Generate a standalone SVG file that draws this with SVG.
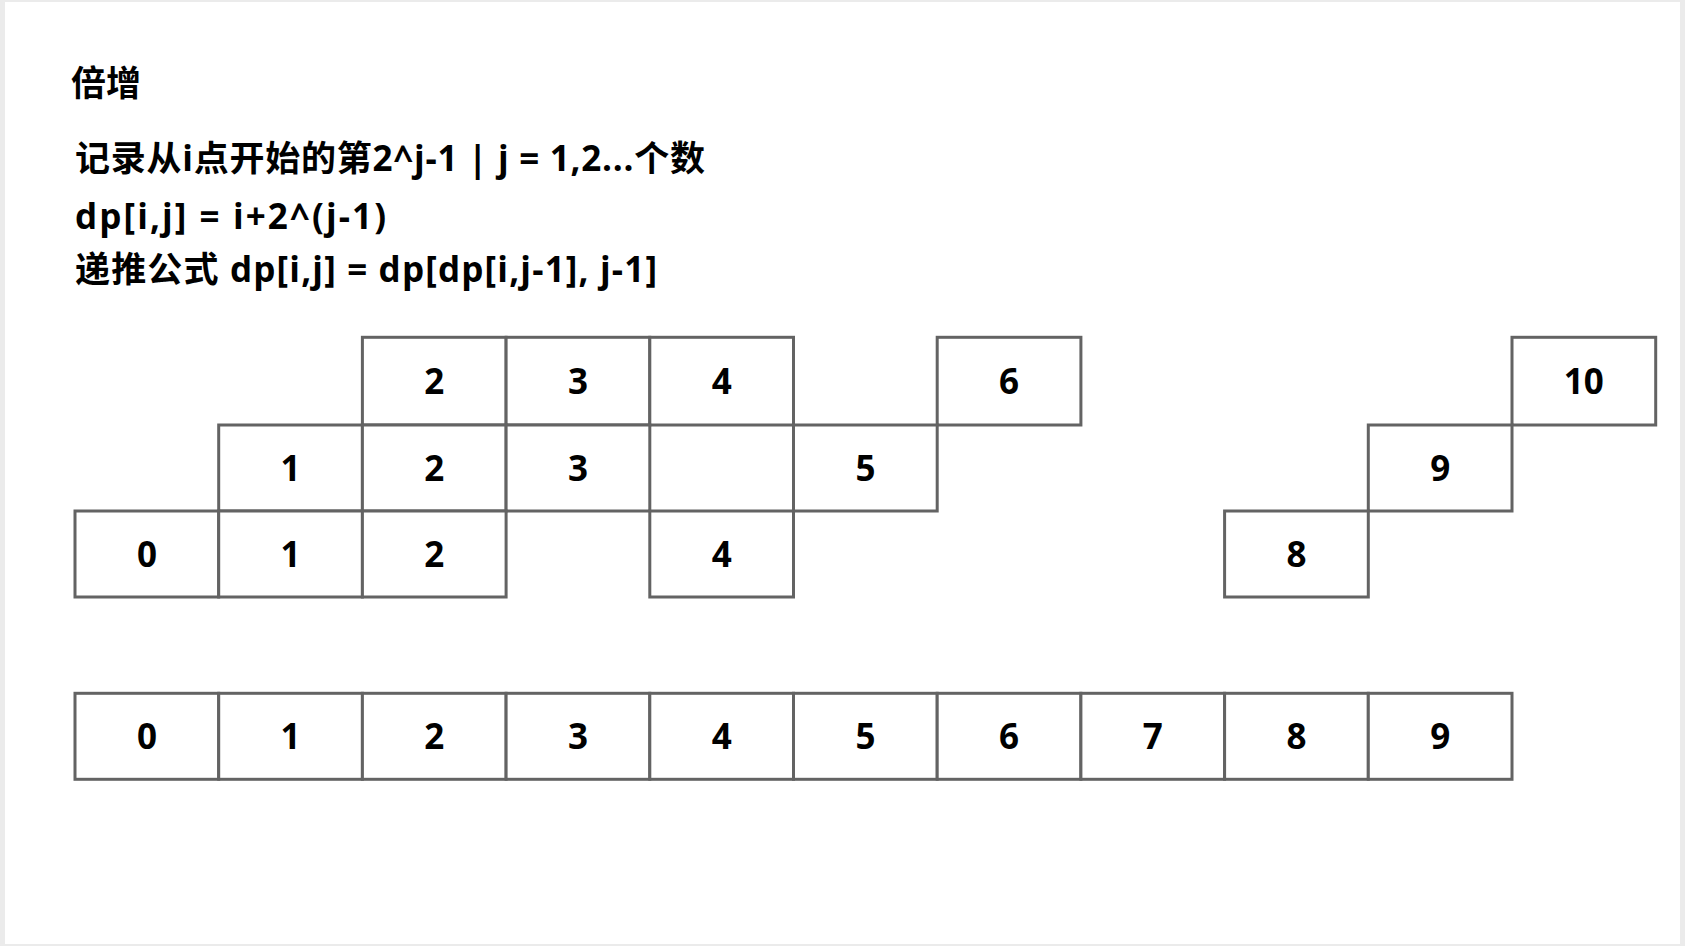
<svg xmlns="http://www.w3.org/2000/svg" width="1685" height="946" viewBox="0 0 1685 946">
<style>
.cell rect{fill:#ffffff;stroke:#636363;stroke-width:3}
.cell text{font-family:"Open Sans","Noto Sans CJK SC",sans-serif;font-weight:bold;font-size:35px;fill:#000;text-anchor:middle}
.txt{font-family:"Open Sans","Noto Sans CJK SC",sans-serif;font-weight:bold;font-size:35px;fill:#000}
</style>
<rect x="0" y="0" width="1685" height="946" fill="#ebebeb"/>
<rect x="5" y="2" width="1675" height="942" fill="#ffffff"/>
<g id="texts">
<text class="txt" x="71" y="96">倍增</text>
<text class="txt" x="75" y="171" textLength="630" lengthAdjust="spacing">记录从i点开始的第2^j-1 | j = 1,2...个数</text>
<text class="txt" x="75" y="229" textLength="311" lengthAdjust="spacing">dp[i,j] = i+2^(j-1)</text>
<text class="txt" x="75" y="282" textLength="582" lengthAdjust="spacing">递推公式 dp[i,j] = dp[dp[i,j-1], j-1]</text>
</g>
<g id="table">
<g id="t2" class="cell"><rect x="362.4" y="337.3" width="143.7" height="87.7"/><text x="434.3" y="394">2</text></g>
<g id="t3" class="cell"><rect x="506.1" y="337.3" width="143.7" height="87.7"/><text x="578" y="394">3</text></g>
<g id="t4" class="cell"><rect x="649.8" y="337.3" width="143.7" height="87.7"/><text x="721.7" y="394">4</text></g>
<g id="t6" class="cell"><rect x="937.2" y="337.3" width="143.7" height="87.7"/><text x="1009" y="394">6</text></g>
<g id="t10" class="cell"><rect x="1512" y="337.3" width="143.7" height="87.7"/><text x="1583.8" y="394">10</text></g>
<g id="m1" class="cell"><rect x="218.7" y="425" width="143.7" height="86"/><text x="290.6" y="481">1</text></g>
<g id="m2" class="cell"><rect x="362.4" y="425" width="143.7" height="86"/><text x="434.3" y="481">2</text></g>
<g id="m3" class="cell"><rect x="506.1" y="425" width="143.7" height="86"/><text x="578" y="481">3</text></g>
<g id="m5" class="cell"><rect x="793.5" y="425" width="143.7" height="86"/><text x="865.4" y="481">5</text></g>
<g id="m9" class="cell"><rect x="1368.3" y="425" width="143.7" height="86"/><text x="1440.2" y="481">9</text></g>
<g id="b0" class="cell"><rect x="75" y="511" width="143.7" height="86"/><text x="146.9" y="567">0</text></g>
<g id="b1" class="cell"><rect x="218.7" y="511" width="143.7" height="86"/><text x="290.6" y="567">1</text></g>
<g id="b2" class="cell"><rect x="362.4" y="511" width="143.7" height="86"/><text x="434.3" y="567">2</text></g>
<g id="b4" class="cell"><rect x="649.8" y="511" width="143.7" height="86"/><text x="721.7" y="567">4</text></g>
<g id="b8" class="cell"><rect x="1224.6" y="511" width="143.7" height="86"/><text x="1296.5" y="567">8</text></g>
</g>
<g id="array">
<g id="a0" class="cell"><rect x="75" y="693.3" width="143.7" height="86"/><text x="146.9" y="749">0</text></g>
<g id="a1" class="cell"><rect x="218.7" y="693.3" width="143.7" height="86"/><text x="290.6" y="749">1</text></g>
<g id="a2" class="cell"><rect x="362.4" y="693.3" width="143.7" height="86"/><text x="434.3" y="749">2</text></g>
<g id="a3" class="cell"><rect x="506.1" y="693.3" width="143.7" height="86"/><text x="578" y="749">3</text></g>
<g id="a4" class="cell"><rect x="649.8" y="693.3" width="143.7" height="86"/><text x="721.7" y="749">4</text></g>
<g id="a5" class="cell"><rect x="793.5" y="693.3" width="143.7" height="86"/><text x="865.4" y="749">5</text></g>
<g id="a6" class="cell"><rect x="937.2" y="693.3" width="143.7" height="86"/><text x="1009" y="749">6</text></g>
<g id="a7" class="cell"><rect x="1080.9" y="693.3" width="143.7" height="86"/><text x="1152.8" y="749">7</text></g>
<g id="a8" class="cell"><rect x="1224.6" y="693.3" width="143.7" height="86"/><text x="1296.5" y="749">8</text></g>
<g id="a9" class="cell"><rect x="1368.3" y="693.3" width="143.7" height="86"/><text x="1440.2" y="749">9</text></g>
</g>
</svg>
